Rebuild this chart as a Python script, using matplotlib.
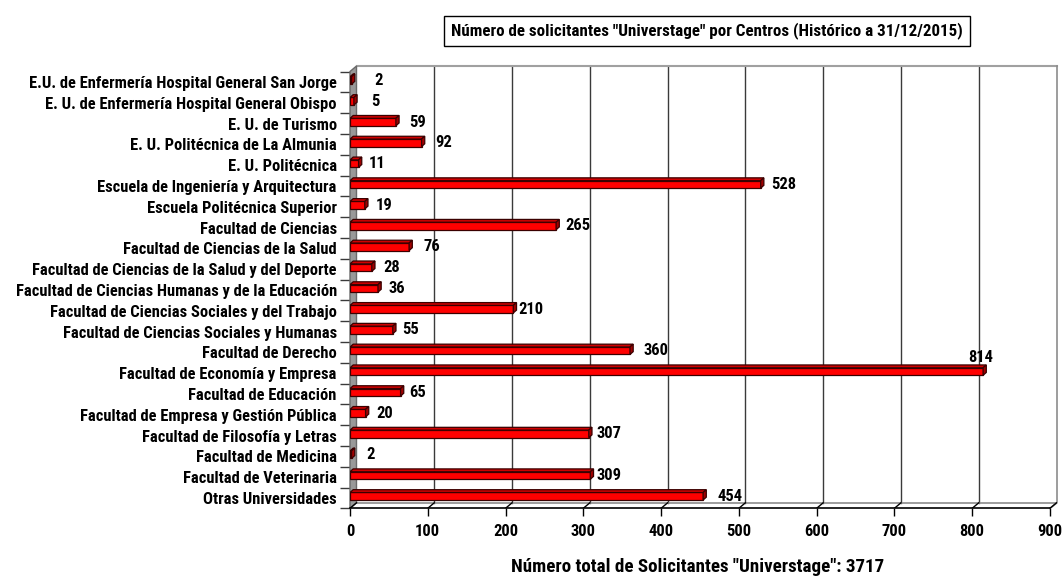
import matplotlib
matplotlib.use('Agg')
import matplotlib.pyplot as plt
from matplotlib import font_manager
from matplotlib.patches import Polygon
import numpy as np

# narrow bold face if one is installed, else plain Liberation Sans a bit smaller
fam, scale = 'Liberation Sans', 0.84
for cand in ['Liberation Sans Narrow', 'Arial Narrow', 'Roboto Condensed',
             'DejaVu Sans Condensed', 'Open Sans Condensed']:
    try:
        font_manager.findfont(font_manager.FontProperties(family=cand, weight='bold'),
                              fallback_to_default=False)
        fam, scale = cand, (1.13 if cand == 'Roboto Condensed' else 1.0)
        break
    except ValueError:
        pass
plt.rcParams['font.family'] = [fam, 'DejaVu Sans']
plt.rcParams['font.weight'] = 'bold'

centros = [
    'E.U. de Enfermería Hospital General San Jorge',
    'E. U. de Enfermería Hospital General Obispo',
    'E. U. de Turismo',
    'E. U. Politécnica de La Almunia',
    'E. U. Politécnica',
    'Escuela de Ingeniería y Arquitectura',
    'Escuela Politécnica Superior',
    'Facultad de Ciencias',
    'Facultad de Ciencias de la Salud',
    'Facultad de Ciencias de la Salud y del Deporte',
    'Facultad de Ciencias Humanas y de la Educación',
    'Facultad de Ciencias Sociales y del Trabajo',
    'Facultad de Ciencias Sociales y Humanas',
    'Facultad de Derecho',
    'Facultad de Economía y Empresa',
    'Facultad de Educación',
    'Facultad de Empresa y Gestión Pública',
    'Facultad de Filosofía y Letras',
    'Facultad de Medicina',
    'Facultad de Veterinaria',
    'Otras Universidades',
]
solicitantes = [2, 5, 59, 92, 11, 528, 19, 265, 76, 28, 36, 210, 55, 360,
                814, 65, 20, 307, 2, 309, 454]
x_ticks = [0, 100, 200, 300, 400, 500, 600, 700, 800, 900]
titulo = 'Número de solicitantes "Universtage" por Centros (Histórico a 31/12/2015)'
total = 'Número total de Solicitantes "Universtage": 3717'

# gap (px) between bar end and its value label, as in the original layout
label_gap = [20, 14, 10, 10, 7, 7, 8, 6, 11, 8, 7, 2, 6, 10, None, 5, 8, 5, 12, 3, 11]

fs = 10.5 * scale

W, H = 1062, 577
fig = plt.figure(figsize=(W / 100, H / 100), dpi=100)

# axes in pixel terms
px_left, px_right, px_bottom, px_top = 350, 1057, 508.3, 66
ppu = 700 / 900.0          # pixels per x unit
row_px = 20.79             # pixels per row
ax = fig.add_axes([px_left / W, (H - px_bottom) / H,
                   (px_right - px_left) / W, (px_bottom - px_top) / H])
n = len(centros)
xmax = (px_right - px_left) / ppu
y_bot = n - 0.5
y_top = y_bot - (px_bottom - px_top) / row_px
ax.set_xlim(0, xmax)
ax.set_ylim(y_bot, y_top)
for s in ax.spines.values():
    s.set_visible(False)

DX = 6.5 / ppu
DY = 5.5 / row_px

# back wall gridlines, floor and borders
wall_c = '#8c8c8c'
for v in x_ticks[1:-1]:
    ax.plot([v + DX, v + DX], [y_bot - DY, y_top], color='#3a3a3a', lw=1.0, zorder=1)
ax.plot([DX, xmax], [y_top, y_top], color='#a0a0a0', lw=1.5, zorder=1, clip_on=False)
ax.plot([xmax, xmax, 900], [y_top, y_bot - DY, y_bot], color=wall_c, lw=1.2,
        zorder=1, clip_on=False)
ax.plot([DX, 900 + DX], [y_bot - DY, y_bot - DY], color=wall_c, lw=1.2, zorder=1)
ax.plot([0, 900], [y_bot, y_bot], color='black', lw=1.2, zorder=3, clip_on=False)
for v in x_ticks:
    ax.plot([v, v + DX], [y_bot, y_bot - DY], color='black', lw=1.0, zorder=3)

# left wall
ax.add_patch(Polygon([(0, y_bot), (0, y_top + DY), (DX, y_top), (DX, y_bot - DY)],
                     closed=True, facecolor='#999999', edgecolor='#6a6a6a',
                     lw=1.0, zorder=2, clip_on=False))

# bars
pos = np.arange(n)
bh = 7.5 / row_px
shift = -0.08
bdx = 3.2 / ppu
bdy = 2.8 / row_px
ax.barh(pos + shift, solicitantes, height=bh, color='#ff0000',
        edgecolor='#3a0000', linewidth=0.9, zorder=4)
for i, v in enumerate(solicitantes):
    yc = i + shift
    top = yc - bh / 2
    bot = yc + bh / 2
    ax.add_patch(Polygon([(0, top), (v, top), (v + bdx, top - bdy), (bdx, top - bdy)],
                         closed=True, facecolor='#d00000', edgecolor='#3a0000',
                         lw=0.9, zorder=4))
    ax.add_patch(Polygon([(v, top), (v, bot), (v + bdx, bot - bdy), (v + bdx, top - bdy)],
                         closed=True, facecolor='#a00000', edgecolor='#3a0000',
                         lw=0.9, zorder=4))
    if label_gap[i] is None:
        ax.annotate(str(v), (v + bdx / 2, top - bdy), xytext=(-4, 0),
                    textcoords='offset pixels', ha='center', va='bottom',
                    fontsize=fs, zorder=5)
    else:
        ax.annotate(str(v), (v + bdx, yc), xytext=(label_gap[i], 0),
                    textcoords='offset pixels', ha='left', va='center',
                    fontsize=fs, zorder=5)

# y axis labels and separators
ax.set_yticks(pos)
ax.set_yticklabels(centros, fontsize=fs)
ax.set_yticks(np.arange(-0.5, n, 1.0), minor=True)
ax.tick_params(axis='y', which='major', length=0, pad=9.5)
ax.tick_params(axis='y', which='minor', length=7.5, width=1.0, color='#3a3a3a',
               direction='out')

# x axis ticks
ax.set_xticks(x_ticks)
ax.set_xticklabels([str(t) for t in x_ticks], fontsize=fs)
ax.tick_params(axis='x', length=6, width=1.0, pad=5)

fig.text(707 / W, 1 - 31 / H, titulo, ha='center', va='center', fontsize=fs * 1.03,
         bbox=dict(boxstyle='square,pad=0.4', facecolor='white', edgecolor='black', lw=1.0))
fig.text(698 / W, 1 - 567 / H, total, ha='center', va='center', fontsize=12 * scale * 1.01)

fig.savefig('out.png', dpi=100)
